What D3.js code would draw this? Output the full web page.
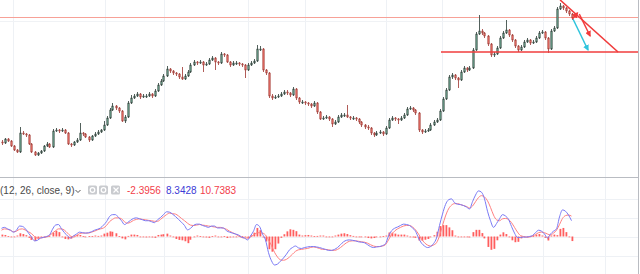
<!DOCTYPE html>
<html>
<head>
<meta charset="utf-8">
<script src="https://cdn.jsdelivr.net/npm/d3@7"></script>
<style>
  body { margin: 0; background: #fff; }
  svg { display: block; }
  text { font-family: "Liberation Sans", Arial, sans-serif; font-size: 10px; }
</style>
</head>
<body>
<svg id="chart" width="640" height="274"></svg>
<script>
// candles, one per bar
var opens = [58,57,61,59,54,50,48,67,66,65, 56,48,45,47,49,54,56,53,69,70,
  69,70,67,56,55,58,60,67,66,63, 60,64,66,68,70,75,82,90,94,92,
  89,79,83,97,102,104,106,103,104,104, 106,104,109,115,119,124,131,129,127,126,
  123,121,124,128,135,138,137,138,135,136, 140,142,138,137,146,145,138,135,137,137,
  136,135,130,135,137,139,151,151,130,127, 104,102,103,104,106,108,107,105,111,102,
  98,98,97,96,94,97,88,81,82,83, 81,76,78,83,85,85,83,82,82,81,
  78,75,73,72,67,65,67,68,66,72, 80,82,81,80,82,85,91,92,90,87,
  70,68,69,70,75,78,80,89,101,110, 123,125,122,120,128,132,130,132,150,166,
  169,167,164,156,145,146,152,162,167,170, 165,160,154,150,153,158,160,157,158,162,
  167,168,162,151,169,172,191,194,192,189,186];
var closes = [57,61,59,54,50,48,67,66,65,56, 48,45,47,49,54,56,53,69,70,69,
  70,67,56,55,58,60,67,66,63,60, 64,66,68,70,75,82,90,94,92,89,
  79,83,97,102,104,106,103,104,104,106, 104,109,115,119,124,131,129,127,126,123,
  121,124,128,135,138,137,138,135,136,140, 142,138,137,146,145,138,135,137,137,136,
  135,130,135,137,139,151,151,130,127,104, 102,103,104,106,108,107,105,111,102,98,
  98,97,96,94,97,88,81,82,83,81, 76,78,83,85,85,83,82,82,81,78,
  75,73,72,67,65,67,68,66,72,80, 82,81,80,82,85,91,92,90,87,70,
  68,69,70,75,78,80,89,101,110,123, 125,122,120,128,132,130,132,150,166,169,
  167,164,156,145,146,152,162,167,170,165, 160,154,150,153,158,160,157,158,162,167,
  168,162,151,169,172,191,194,192,189,186,182];
var highs = [60,62,62,60,55,51,73,69,67,66, 57,49,48,50,55,58,57,71,72,71,
  72,71,68,57,59,62,77,68,67,64, 65,68,70,71,79,84,92,97,95,93,
  90,85,99,105,106,108,107,106,106,108, 107,111,117,121,126,134,132,130,128,127,
  133,126,130,137,140,139,140,139,138,142, 144,143,139,148,147,146,139,139,139,138,
  137,136,137,139,141,155,154,152,131,128, 106,105,106,108,110,110,108,113,112,103,
  100,99,98,97,99,98,89,84,85,84, 82,80,85,87,87,95,84,84,83,82,
  79,76,75,73,68,69,70,69,74,82, 84,83,82,84,87,93,94,93,91,88,
  71,71,72,77,80,82,91,103,112,125, 127,126,123,130,134,133,134,152,168,185,
  171,168,165,157,148,154,164,169,180,171, 166,161,155,155,160,162,161,160,164,169,
  170,169,163,171,174,193,197,195,193,190,187];
var lows = [55,56,58,53,49,47,47,65,63,55, 47,44,44,46,48,53,52,52,68,67,
  68,66,55,53,54,57,59,64,62,58, 59,63,65,67,69,74,81,89,90,87,
  78,77,82,96,101,103,101,102,102,103, 102,103,108,114,118,123,127,125,124,121,
  120,120,123,127,134,135,136,128,134,135, 139,130,135,136,143,137,133,134,135,134,
  133,122,129,134,136,138,149,128,125,102, 100,101,102,103,105,105,103,104,100,96,
  96,95,94,92,93,86,80,80,81,79, 73,75,77,82,83,82,80,80,79,76,
  73,71,70,65,63,64,66,64,65,71, 79,79,76,79,81,84,90,88,85,68,
  66,67,68,69,74,77,79,88,100,109, 121,120,112,119,127,128,129,131,149,165,
  165,162,154,143,143,145,151,161,166,163, 158,152,148,149,152,157,155,156,157,161,
  166,160,147,150,168,171,190,190,187,184,180];

// MACD (12, 26, close, 9)
var macdLine = [4.3,4.8,4.0,3.3,2.3,3.3,5.5,5.3,4.0,1.8, -0.3,-2.3,-2.0,-0.8,-0.5,0,0.8,3.8,6.0,6.3,
  4.0,2.0,0.3,-0.8,0.3,1.3,2.3,2.0,1.8,2.0, 2.5,3.3,3.8,4.5,6.0,7.8,10.5,11.5,11.5,10.0,
  8.3,6.3,7.3,8.5,9.5,9.8,9.3,8.8,8.3,8.3, 7.8,7.3,8.8,10.0,11.5,13.0,12.8,11.8,10.5,9.0,
  7.5,5.8,3.5,4.3,5.8,6.5,6.5,5.8,5.3,4.8, 5.5,5.5,4.5,4.5,4.5,3.0,2.3,1.8,1.3,0.8,
  -0.3,-0.8,-1.8,0.3,2.8,6.3,5.3,1.3,-1.8,-8.5, -12.8,-15.0,-14.5,-13.0,-11.3,-9.3,-7.0,-5.8,-5.0,-6.0,
  -6.3,-5.8,-5.5,-5.3,-5.3,-5.5,-5.8,-6.3,-6.8,-7.3, -7.3,-6.8,-5.8,-4.3,-2.8,-2.0,-1.8,-2.0,-2.3,-2.8,
  -3.0,-3.3,-4.3,-5.3,-5.8,-5.5,-5.3,-4.8,-3.8,0.3, 3.0,4.3,5.0,5.8,6.5,6.3,5.8,4.5,2.8,-0.8,
  -3.5,-5.0,-5.8,-5.3,-3.8,-0.8,5.8,11.8,16.8,19.3, 19.8,17.8,17.0,16.8,16.3,15.5,14.5,18.3,21.8,24.0,
  23.3,19.8,13.3,8.3,4.8,6.8,9.3,11.5,10.8,9.0, 5.3,1.8,-0.5,-0.5,-0.3,-0.3,0,0.5,2.0,3.3,
  2.8,1.3,-0.8,1.3,2.8,4.0,10.3,14.0,13.3,11.3,8.34];
var signalLine = [3.3,4.0,3.8,3.3,2.5,2.8,3.8,4.0,3.3,2.5, 1.5,0,-0.8,-0.8,-0.5,-0.3,0.5,1.8,3.0,4.0,
  4.0,3.3,1.8,0.3,-0.3,0.5,1.5,1.8,1.8,1.8, 2.3,2.8,3.5,4.0,4.5,5.8,7.8,9.0,9.8,9.8,
  9.3,7.8,7.0,7.5,8.5,9.0,9.3,9.0,8.8,8.5, 8.3,8.0,8.0,9.0,10.3,11.5,12.3,12.0,11.8,10.8,
  9.5,8.3,7.0,6.0,5.8,6.0,6.3,6.0,5.8,5.5, 5.3,5.0,4.8,4.8,4.3,3.8,2.8,2.0,1.3,0.3,
  -0.5,-0.8,-0.8,-0.3,0.8,1.8,2.0,1.8,0.8,-1.8, -4.8,-8.3,-10.8,-12.3,-12.5,-12.0,-10.8,-9.3,-7.8,-7.0,
  -6.8,-6.5,-6.3,-5.8,-5.5,-5.8,-6.3,-6.8,-6.8,-7.0, -7.3,-7.3,-6.8,-5.8,-4.5,-3.3,-2.5,-2.3,-2.3,-2.5,
  -2.8,-3.0,-3.5,-4.3,-5.0,-5.3,-5.3,-5.0,-4.3,-1.8, 1.0,2.8,4.0,4.8,5.5,5.8,5.8,5.0,3.5,1.3,
  -1.3,-3.3,-4.5,-5.0,-4.5,-3.3,0.3,5.8,10.8,14.5, 16.5,17.3,17.3,16.8,16.3,15.8,15.0,16.0,18.3,20.5,
  21.5,20.8,18.8,15.3,11.3,8.8,8.3,9.3,9.5,9.0, 7.3,4.8,2.3,0.5,0,-0.3,-0.3,0.3,1.0,2.0,
  2.3,2.0,1.3,0.8,1.8,3.3,6.3,9.5,11.0,11.3,10.74];
var histogram = [1.0,0.8,0.2,0,-0.2,0.5,1.7,1.3,0.7,-0.7, -1.8,-2.3,-1.2,0,0,0.3,0.3,2.0,3.0,2.3,
  0,-1.3,-1.5,-1.1,0.6,0.8,0.8,0.2,0,0.2, 0.2,0.5,0.3,0.5,1.5,2.0,2.7,2.5,1.7,0.2,
  -1.0,-1.5,0.3,1.0,1.0,0.8,0,-0.2,-0.5,-0.2, -0.5,-0.7,0.8,1.0,1.2,1.5,0.5,-0.2,-1.3,-1.8,
  -2.0,-2.5,-3.5,-1.7,0,0.5,0.2,-0.2,-0.5,-0.7, 0.2,0.5,-0.3,-0.3,0.2,-0.8,-0.5,-0.2,0,0.5,
  0.2,0,-1.0,0.6,2.0,4.5,3.3,-0.5,-2.6,-6.7, -8.0,-6.7,-3.7,-0.7,1.2,2.7,3.8,3.5,2.8,1.0,
  0.5,0.7,0.8,0.5,0.2,0.3,0.5,0.5,0,-0.3, 0,0.5,1.0,1.5,1.7,1.3,0.7,0.3,0,-0.3,
  -0.2,-0.3,-0.8,-1.0,-0.8,-0.2,0,0.2,0.5,2.1, 2.0,1.5,1.0,1.0,1.0,0.5,0,-0.5,-0.7,-2.1,
  -2.2,-1.7,-1.3,-0.3,0.7,2.5,5.5,6.0,6.0,4.8, 3.3,0.5,-0.3,0,0,-0.3,-0.5,2.3,3.5,3.5,
  1.8,-1.0,-5.5,-7.0,-6.5,-2.0,1.0,2.2,1.3,0, -2.0,-3.0,-2.8,-1.0,-0.3,0,0.3,0.2,1.0,1.3,
  0.5,-0.7,-2.1,0.5,1.0,0.7,4.0,4.5,2.3,0,-2.4];

var legendParams = "(12, 26, close, 9)";
var legendValues = ["-2.3956", "8.3428", "10.7383"];

// time grid (bar index) and price/indicator grid levels
var timeTicks = [3.8, 34.5, 54.2, 82.2, 101.2, 128.2, 146.8, 180.5, 201.2];
var priceTicks = [179];
var macdTicks = [-10, 0, 10, 20];

// drawings, in (bar index, price)
var resistance = 183;
var support = { from: 146.5, level: 148 };
var trendLine = [[186.2, 200], [205.5, 148]];
var arrowCyan = [[190.5, 181], [195.5, 150]];
var arrowUp = [[190.3, 181], [192, 187]];
var arrowDown = [[192.6, 186], [196.2, 164]];

var width = 640, height = 274;
var paneBottom = 177, axisX = 638;

var svg = d3.select("#chart");

var x = d3.scaleLinear().domain([-0.5, 212.5]).range([0, 639]);
var y = d3.scaleLinear().domain([23, 200]).range([paneBottom, 0]);
var ym = d3.scaleLinear().domain([-10, 20]).range([255.5, 198.5]);

var defs = svg.append("defs");
defs.append("clipPath").attr("id", "mainClip")
  .append("rect").attr("x", 0).attr("y", 0).attr("width", axisX).attr("height", paneBottom);
defs.append("clipPath").attr("id", "macdClip")
  .append("rect").attr("x", 0).attr("y", paneBottom + 1).attr("width", axisX).attr("height", height - paneBottom);

function marker(id, color) {
  defs.append("marker")
    .attr("id", id)
    .attr("viewBox", "0 0 10 10")
    .attr("refX", 8).attr("refY", 5)
    .attr("markerWidth", 4).attr("markerHeight", 4)
    .attr("orient", "auto")
    .append("path")
    .attr("d", "M0,0 L10,5 L0,10 z")
    .attr("fill", color);
}
marker("headRed", "#f23b3b");
marker("headCyan", "#2ec4dc");

// grid
var grid = svg.append("g");
grid.selectAll(".vgrid")
  .data(timeTicks)
  .enter()
  .append("line")
  .attr("x1", function(d) { return Math.round(x(d)) + 0.5; })
  .attr("x2", function(d) { return Math.round(x(d)) + 0.5; })
  .attr("y1", 0).attr("y2", height)
  .attr("stroke", "#eef1f5");
grid.selectAll(".pgrid")
  .data(priceTicks)
  .enter()
  .append("line")
  .attr("x1", 0).attr("x2", axisX)
  .attr("y1", function(d) { return Math.round(y(d)) + 0.5; })
  .attr("y2", function(d) { return Math.round(y(d)) + 0.5; })
  .attr("stroke", "#f0f2f5");
grid.selectAll(".mgrid")
  .data(macdTicks)
  .enter()
  .append("line")
  .attr("x1", 0).attr("x2", axisX)
  .attr("y1", function(d) { return Math.round(ym(d)) + 0.5; })
  .attr("y2", function(d) { return Math.round(ym(d)) + 0.5; })
  .attr("stroke", "#eef1f5");

// candles
var main = svg.append("g").attr("clip-path", "url(#mainClip)");
var bars = d3.range(closes.length);

main.append("line")
  .attr("x1", 0).attr("x2", axisX)
  .attr("y1", y(resistance) + 0.5).attr("y2", y(resistance) + 0.5)
  .attr("stroke", "#f7a197").attr("stroke-width", 1);

function candleStroke(i) { return closes[i] >= opens[i] ? "#3f4f49" : "#a84a45"; }

main.selectAll(".wick")
  .data(bars)
  .enter()
  .append("line")
  .attr("x1", function(i) { return Math.round(x(i)) + 0.5; })
  .attr("x2", function(i) { return Math.round(x(i)) + 0.5; })
  .attr("y1", function(i) { return y(highs[i]); })
  .attr("y2", function(i) { return y(lows[i]); })
  .attr("stroke", candleStroke)
  .attr("stroke-width", 0.9);

main.selectAll(".body")
  .data(bars)
  .enter()
  .append("rect")
  .attr("x", function(i) { return Math.round(x(i)) - 0.25; })
  .attr("y", function(i) { return y(Math.max(opens[i], closes[i])); })
  .attr("width", 1.5)
  .attr("height", function(i) { return Math.max(1, Math.abs(y(opens[i]) - y(closes[i]))); })
  .attr("fill", function(i) { return closes[i] >= opens[i] ? "#5d8c7a" : "#d8625a"; })
  .attr("stroke", candleStroke)
  .attr("stroke-width", 0.5);

// drawings
main.append("line")
  .attr("x1", x(support.from)).attr("x2", width)
  .attr("y1", y(support.level)).attr("y2", y(support.level))
  .attr("stroke", "#f03c3c").attr("stroke-width", 1.6);
main.append("line")
  .attr("x1", x(trendLine[0][0])).attr("y1", y(trendLine[0][1]))
  .attr("x2", x(trendLine[1][0])).attr("y2", y(trendLine[1][1]))
  .attr("stroke", "#f03c3c").attr("stroke-width", 1.6);

function arrow(pts, color, head) {
  main.append("line")
    .attr("x1", x(pts[0][0])).attr("y1", y(pts[0][1]))
    .attr("x2", x(pts[1][0])).attr("y2", y(pts[1][1]))
    .attr("stroke", color).attr("stroke-width", 1.5)
    .attr("marker-end", "url(#" + head + ")");
}
arrow(arrowCyan, "#2ec4dc", "headCyan");
arrow(arrowUp, "#f23b3b", "headRed");
arrow(arrowDown, "#f23b3b", "headRed");

// MACD pane
var macdG = svg.append("g").attr("clip-path", "url(#macdClip)");

macdG.selectAll(".hist")
  .data(bars)
  .enter()
  .append("rect")
  .attr("x", function(i) { return Math.round(x(i)) - 0.5; })
  .attr("width", 1.8)
  .attr("y", function(i) { return Math.min(ym(0), ym(histogram[i])); })
  .attr("height", function(i) { return Math.max(0.8, Math.abs(ym(histogram[i]) - ym(0))); })
  .attr("fill", "#ff4d4d")
  .attr("fill-opacity", 0.9);

var lineGen = function(arr) {
  return d3.line()
    .x(function(i) { return x(i); })
    .y(function(i) { return ym(arr[i]); })
    .curve(d3.curveMonotoneX)(bars);
};
macdG.append("path")
  .attr("d", lineGen(signalLine))
  .attr("fill", "none").attr("stroke", "#ff8080").attr("stroke-width", 1);
macdG.append("path")
  .attr("d", lineGen(macdLine))
  .attr("fill", "none").attr("stroke", "#7a7af5").attr("stroke-width", 1);

// pane separator and price axis border
svg.append("line")
  .attr("x1", 0).attr("x2", axisX + 1)
  .attr("y1", paneBottom + 0.5).attr("y2", paneBottom + 0.5)
  .attr("stroke", "#b9bcc2");
svg.append("line")
  .attr("x1", axisX + 0.5).attr("x2", axisX + 0.5)
  .attr("y1", 0).attr("y2", height)
  .attr("stroke", "#b9bcc2");

// legend
var legend = svg.append("g");
legend.append("text")
  .attr("x", 0).attr("y", 194)
  .attr("fill", "#4a4a4a")
  .text(legendParams);
legend.append("path")
  .attr("d", "M75.5,190 L78,192.5 L80.5,190")
  .attr("fill", "none").attr("stroke", "#555").attr("stroke-width", 1);

var iconX = [88, 99, 111];
legend.selectAll(".icon")
  .data(iconX)
  .enter()
  .append("rect")
  .attr("x", function(d) { return d; })
  .attr("y", 185.5)
  .attr("width", 9).attr("height", 9)
  .attr("rx", 1.5)
  .attr("fill", "#c9cbcf");
legend.selectAll(".iconDot")
  .data(iconX.slice(0, 2))
  .enter()
  .append("circle")
  .attr("cx", function(d) { return d + 4.5; })
  .attr("cy", 190)
  .attr("r", 2.3)
  .attr("fill", "none").attr("stroke", "#fff").attr("stroke-width", 1.2);
legend.append("path")
  .attr("d", "M113.5,187.5 L118.5,192.5 M118.5,187.5 L113.5,192.5")
  .attr("stroke", "#fff").attr("stroke-width", 1.2);

var valX = [127, 166, 200];
var valColor = ["#f2404a", "#3b3bd6", "#f2404a"];
legend.selectAll(".val")
  .data(legendValues)
  .enter()
  .append("text")
  .attr("x", function(d, i) { return valX[i]; })
  .attr("y", 194)
  .attr("fill", function(d, i) { return valColor[i]; })
  .text(function(d) { return d; });
</script>
</body>
</html>
